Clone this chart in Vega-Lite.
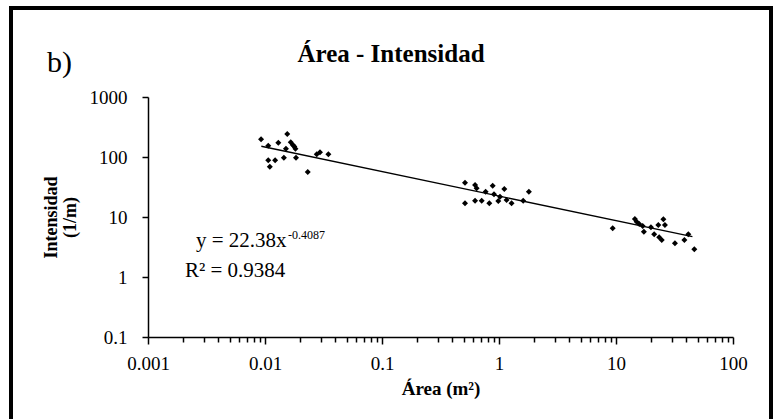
{
  "$schema": "https://vega.github.io/schema/vega-lite/v6.json",
  "width": 760,
  "height": 416,
  "autosize": {"type": "none"},
  "padding": {"left": 11, "top": 8, "right": 6, "bottom": -5},
  "background": "white",
  "config": {
    "view": {"stroke": "black", "strokeWidth": 4},
    "font": "'Liberation Serif', 'Times New Roman', Times, serif",
    "axis": {
      "grid": false,
      "domainColor": "black",
      "domainWidth": 1.5,
      "tickColor": "black",
      "tickWidth": 1.5,
      "labelColor": "black",
      "titleColor": "black",
      "labelFont": "'Liberation Serif', 'Times New Roman', Times, serif",
      "titleFont": "'Liberation Serif', 'Times New Roman', Times, serif"
    },
    "text": {"font": "'Liberation Serif', 'Times New Roman', Times, serif"}
  },
  "title": {
    "text": "Área - Intensidad",
    "font": "'Liberation Serif', 'Times New Roman', Times, serif",
    "fontSize": 25,
    "fontWeight": "bold",
    "color": "black",
    "anchor": "middle",
    "frame": "group",
    "offset": -79,
    "baseline": "alphabetic"
  },
  "datasets": {
    "puntos": [
      {"area": 0.00925, "intensidad": 197},
      {"area": 0.01066, "intensidad": 154},
      {"area": 0.0130, "intensidad": 173},
      {"area": 0.0155, "intensidad": 242},
      {"area": 0.0166, "intensidad": 176},
      {"area": 0.0173, "intensidad": 158},
      {"area": 0.0178, "intensidad": 149},
      {"area": 0.0182, "intensidad": 137},
      {"area": 0.0151, "intensidad": 137},
      {"area": 0.01066, "intensidad": 88},
      {"area": 0.0122, "intensidad": 88},
      {"area": 0.0110, "intensidad": 69},
      {"area": 0.0145, "intensidad": 97},
      {"area": 0.0184, "intensidad": 97},
      {"area": 0.0232, "intensidad": 56},
      {"area": 0.0277, "intensidad": 111},
      {"area": 0.0295, "intensidad": 120},
      {"area": 0.0348, "intensidad": 111},
      {"area": 0.512, "intensidad": 37.3},
      {"area": 0.624, "intensidad": 34.2},
      {"area": 0.644, "intensidad": 30.1},
      {"area": 0.769, "intensidad": 26.4},
      {"area": 0.883, "intensidad": 33.2},
      {"area": 0.906, "intensidad": 23.9},
      {"area": 1.02, "intensidad": 21.8},
      {"area": 1.11, "intensidad": 29.3},
      {"area": 0.986, "intensidad": 18.5},
      {"area": 1.16, "intensidad": 19.2},
      {"area": 1.28, "intensidad": 16.9},
      {"area": 1.61, "intensidad": 18.7},
      {"area": 1.80, "intensidad": 26.4},
      {"area": 0.512, "intensidad": 16.9},
      {"area": 0.624, "intensidad": 18.7},
      {"area": 0.711, "intensidad": 18.7},
      {"area": 0.826, "intensidad": 16.9},
      {"area": 9.37, "intensidad": 6.48},
      {"area": 14.5, "intensidad": 9.26},
      {"area": 15.0, "intensidad": 8.35},
      {"area": 15.8, "intensidad": 7.64},
      {"area": 16.9, "intensidad": 7.08},
      {"area": 17.3, "intensidad": 5.69},
      {"area": 19.9, "intensidad": 6.73},
      {"area": 21.2, "intensidad": 5.15},
      {"area": 23.0, "intensidad": 7.36},
      {"area": 25.4, "intensidad": 9.16},
      {"area": 26.2, "intensidad": 7.36},
      {"area": 23.4, "intensidad": 4.59},
      {"area": 24.6, "intensidad": 4.14},
      {"area": 31.9, "intensidad": 3.64},
      {"area": 38.4, "intensidad": 4.14},
      {"area": 41.5, "intensidad": 5.15},
      {"area": 46.7, "intensidad": 2.90}
    ],
    "ajuste": [
      {"area": 0.0093, "intensidad": 151},
      {"area": 45, "intensidad": 4.7}
    ]
  },
  "layer": [
    {
      "data": {"name": "puntos"},
      "mark": {"type": "point", "shape": "diamond", "filled": true, "color": "black", "size": 36, "opacity": 1},
      "encoding": {
        "x": {
          "field": "area",
          "type": "quantitative",
          "scale": {"type": "log", "domain": [0.001, 100], "range": [137, 722], "nice": false},
          "axis": {
            "orient": "bottom",
            "offset": -87,
            "title": "Área (m²)",
            "titleFontSize": 19,
            "titleFontWeight": "bold",
            "titlePadding": 6,
            "values": [0.001, 0.002, 0.003, 0.004, 0.005, 0.006, 0.007, 0.008, 0.009,
                       0.01, 0.02, 0.03, 0.04, 0.05, 0.06, 0.07, 0.08, 0.09,
                       0.1, 0.2, 0.3, 0.4, 0.5, 0.6, 0.7, 0.8, 0.9,
                       1, 2, 3, 4, 5, 6, 7, 8, 9,
                       10, 20, 30, 40, 50, 60, 70, 80, 90, 100],
            "format": "~g",
            "labelExpr": "abs(log(datum.value)/LN10 - round(log(datum.value)/LN10)) < 0.001 ? datum.label : ''",
            "labelOverlap": false,
            "labelFlush": false,
            "labelFontSize": 19,
            "labelPadding": 10,
            "tickSize": {"condition": {"test": "abs(log(datum.value)/LN10 - round(log(datum.value)/LN10)) < 0.001", "value": 7}, "value": 5}
          }
        },
        "y": {
          "field": "intensidad",
          "type": "quantitative",
          "scale": {"type": "log", "domain": [0.1, 1000], "range": [329, 89], "nice": false},
          "axis": {
            "orient": "left",
            "offset": -137,
            "title": ["Intensidad", "(1/m)"],
            "titleFontSize": 18,
            "titleFontWeight": "bold",
            "titlePadding": 10,
            "titleLineHeight": 19,
            "values": [0.1, 1, 10, 100, 1000],
            "format": "~g",
            "labelFontSize": 19,
            "labelPadding": 15,
            "tickSize": 6
          }
        }
      }
    },
    {
      "data": {"name": "ajuste"},
      "mark": {"type": "line", "color": "black", "strokeWidth": 1.3},
      "encoding": {
        "x": {"field": "area", "type": "quantitative"},
        "y": {"field": "intensidad", "type": "quantitative"}
      }
    },
    {
      "data": {"values": [{}]},
      "mark": {"type": "text", "align": "left", "baseline": "alphabetic", "fontSize": 21, "color": "black", "dx": 11},
      "encoding": {
        "x": {"datum": 0.00207},
        "y": {"datum": 3.16},
        "text": {"value": "y = 22.38x"}
      }
    },
    {
      "data": {"values": [{}]},
      "mark": {"type": "text", "align": "left", "baseline": "alphabetic", "fontSize": 12, "color": "black", "dx": 103, "dy": -8},
      "encoding": {
        "x": {"datum": 0.00207},
        "y": {"datum": 3.16},
        "text": {"value": "-0.4087"}
      }
    },
    {
      "data": {"values": [{}]},
      "mark": {"type": "text", "align": "left", "baseline": "alphabetic", "fontSize": 21, "color": "black"},
      "encoding": {
        "x": {"datum": 0.00207},
        "y": {"datum": 1},
        "text": {"value": "R² = 0.9384"}
      }
    },
    {
      "data": {"values": [{}]},
      "mark": {"type": "text", "align": "left", "baseline": "alphabetic", "fontSize": 30, "color": "black"},
      "encoding": {
        "x": {"datum": 0.000137},
        "y": {"datum": 2610},
        "text": {"value": "b)"}
      }
    }
  ]
}
